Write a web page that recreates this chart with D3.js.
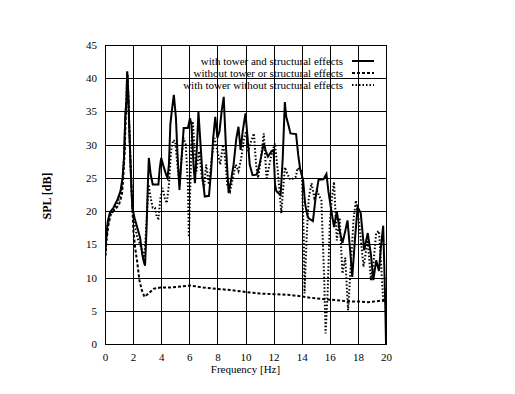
<!DOCTYPE html>
<html><head><meta charset="utf-8">
<script src="https://cdn.jsdelivr.net/npm/d3@7"></script>
<style>body{margin:0;background:#fff}svg{display:block}text{font-family:"Liberation Serif","Times New Roman",serif;fill:#000}</style>
</head><body><div id="c"></div>
<script>
const xTicks = [0,2,4,6,8,10,12,14,16,18,20];
const yTicks = [0,5,10,15,20,25,30,35,40,45];
const seriesNames = ["with tower and structural effects","without tower or structural effects","with tower without structural effects"];

const solidF = [0,0.1,0.2,0.35,0.6,0.9,1.1,1.25,1.35,1.45,1.52,1.58,1.65,1.72,1.8,1.88,1.95,2.1,2.3,2.5,2.65,2.75,2.85,2.95,3.05,3.12,3.25,3.4,3.8,3.9,4.0,4.2,4.35,4.45,4.55,4.65,4.75,4.9,5.05,5.15,5.3,5.45,5.6,5.9,6.05,6.15,6.3,6.4,6.55,6.65,6.8,6.95,7.1,7.4,7.55,7.7,7.85,8.0,8.15,8.3,8.45,8.6,8.8,9.0,9.15,9.35,9.5,9.65,9.8,10.0,10.15,10.3,10.5,10.8,11.0,11.3,11.45,11.6,11.85,12.0,12.1,12.2,12.5,12.65,12.8,12.9,13.05,13.2,13.6,13.75,13.9,14.1,14.25,14.4,14.5,14.8,15.0,15.2,15.55,15.76,15.9,16.07,16.3,16.5,16.7,16.9,17.1,17.26,17.45,17.6,17.8,17.98,18.2,18.45,18.7,18.93,19.1,19.3,19.5,19.64,19.8,19.9,19.95,20.0];
const solidDB = [13,16.5,18.5,19.8,20.5,21.8,23,25,28,34.5,36.5,41,38,33,28,23.5,20.5,19,17.5,16,13.5,12.5,11.8,17,24,28,25.5,24,24,26.5,28,26.5,25.5,25,27,33,35,37.5,34,29,23.2,28,32.5,32.5,34,33,27,24.2,30,35,30,25,22.2,22.3,26,31,34.2,31,32,35,37.2,30,22.7,25,27,31,32.7,29.2,32,34.7,31,27,25.4,25.5,27,30.2,29,28.2,29,29.2,24,23,22.4,28,36.4,34.2,33,31.7,31.6,28.5,26.2,24.7,21,19.4,18.9,18.5,22.2,24.7,24.8,25.6,23,20.6,17.6,20,17,15.2,17,18.6,14,10.1,16,20.6,19.7,14.1,16.7,13.4,9.6,12.6,11,14.6,17.8,10,5.6,0];

const dashF = [0,0.1,0.25,0.4,0.7,1.0,1.2,1.3,1.4,1.48,1.55,1.6,1.67,1.74,1.82,1.9,1.96,2.02,2.14,2.3,2.45,2.62,2.81,3.1,3.45,3.93,4.6,5.2,6.07,7.0,8.0,9.0,10.1,11.0,12.0,13.0,13.9,14.5,15.8,16.5,17.3,18.0,18.7,19.6,20.0];
const dashDB = [12.5,15.5,18,19.5,20.2,21,22.5,25,29,34.5,37,40.5,37,32,27,23,20,17.1,14.6,12.2,9.6,8.1,7.1,7.6,8.3,8.5,8.5,8.6,8.8,8.5,8.3,8.1,7.8,7.6,7.5,7.4,7.2,7.0,6.7,6.6,6.4,6.4,6.3,6.5,6.5];

const dotF = [0,0.1,0.2,0.35,0.6,0.9,1.1,1.25,1.35,1.45,1.52,1.58,1.65,1.72,1.8,1.88,1.95,2.1,2.3,2.5,2.65,2.8,2.95,3.1,3.25,3.4,3.55,3.7,3.8,3.95,4.1,4.25,4.4,4.55,4.7,4.85,5.0,5.15,5.3,5.45,5.6,5.75,5.9,5.97,6.05,6.15,6.25,6.35,6.5,6.7,6.9,7.05,7.2,7.4,7.6,7.8,8.0,8.2,8.4,8.55,8.7,8.9,9.1,9.3,9.5,9.7,9.9,10.05,10.2,10.4,10.6,10.75,10.9,11.1,11.3,11.5,11.7,11.9,12.1,12.3,12.55,12.8,13.0,13.2,13.6,13.7,14.0,14.15,14.2,14.35,14.5,14.7,14.9,15.1,15.4,15.6,15.7,15.85,16.0,16.15,16.3,16.5,16.7,16.9,17.1,17.3,17.5,17.7,17.86,18.1,18.4,18.7,18.93,19.1,19.3,19.5,19.65,19.8,20.0];
const dotDB = [13,16,18,19.3,20.2,21.3,22.5,24.5,28,34.5,36.5,41,38,33,28,23.5,20,18,16,15,14,13,18,24,22,20.5,20.5,19,18.9,22,23.5,22,21.2,24,29,30.7,30.5,27,24,28,31,30,24,16.1,22,30,33.5,30,26,29,25,23.5,27,24,28,31,29,27,30,28,24,23,25,27,26,28,31,32,29,30.5,31.7,27,25,28,31.7,24.7,27,29,30.2,26,19.7,26.6,25.5,24.7,25.2,26.5,26,16,7.6,16,22,24.2,22,23,21.6,10,1.6,8,18,22,24.4,15.6,19,10.6,13,5.1,12,19,21.6,18,11.6,15.6,9.6,12,16.7,17,12,6.6,7];

const W = 515, H = 394;
const m = {left:105, right:386, top:45, bottom:344};
const svg = d3.select("#c").append("svg").attr("width",W).attr("height",H);
const x = d3.scaleLinear().domain([0,20]).range([m.left,m.right]);
const y = d3.scaleLinear().domain([0,45]).range([m.bottom,m.top]);

// grid
const g = svg.append("g");
g.selectAll("line.vx").data(xTicks).join("line")
  .attr("x1",d=>Math.round(x(d))+0.5).attr("x2",d=>Math.round(x(d))+0.5)
  .attr("y1",m.top).attr("y2",m.bottom).attr("stroke","#000").attr("stroke-width",1);
g.selectAll("line.hy").data(yTicks).join("line")
  .attr("y1",d=>Math.round(y(d))+0.5).attr("y2",d=>Math.round(y(d))+0.5)
  .attr("x1",m.left).attr("x2",m.right).attr("stroke","#000").attr("stroke-width",1);

// axes labels via d3 axes (no domain/ticks lines)
const xAxis = svg.append("g").attr("transform",`translate(0,${m.bottom})`)
  .call(d3.axisBottom(x).tickValues(xTicks).tickSize(0).tickPadding(9).tickFormat(d3.format("d")));
const yAxis = svg.append("g").attr("transform",`translate(${m.left},0)`)
  .call(d3.axisLeft(y).tickValues(yTicks).tickSize(0).tickPadding(8).tickFormat(d3.format("d")));
[xAxis,yAxis].forEach(a=>{a.select(".domain").remove();a.selectAll("text").attr("font-size",11).attr("font-family","Liberation Serif");});

svg.append("text").attr("x",(m.left+m.right)/2).attr("y",373).attr("text-anchor","middle")
  .attr("font-size",11).text("Frequency [Hz]");
svg.append("text").attr("transform","translate(51,196) rotate(-90)").attr("text-anchor","middle")
  .attr("font-size",12).attr("font-weight","bold").text("SPL [dB]");

const line = d3.line().x(d=>x(d[0])).y(d=>y(d[1]));
const clip = svg.append("clipPath").attr("id","pc").append("rect")
  .attr("x",m.left).attr("y",m.top).attr("width",m.right-m.left+1).attr("height",m.bottom-m.top+1);
const styles = [
  {dash:null},
  {dash:"3,2"},
  {dash:"1.5,2"}
];
const series = [
  d3.zip(solidF,solidDB),
  d3.zip(dashF,dashDB),
  d3.zip(dotF,dotDB)
];
const pl = svg.append("g").attr("clip-path","url(#pc)");
[1,2,0].forEach(i=>{
  pl.append("path").datum(series[i]).attr("d",line).attr("fill","none")
    .attr("stroke","#000").attr("stroke-width",2).attr("stroke-linejoin","miter")
    .attr("stroke-dasharray",styles[i].dash);
});

// legend
const leg = svg.append("g");
seriesNames.forEach((n,i)=>{
  const yy = 61 + i*12;
  leg.append("text").attr("x",343).attr("y",yy+4).attr("text-anchor","end").attr("font-size",11).text(n);
  leg.append("line").attr("x1",352).attr("x2",374).attr("y1",yy).attr("y2",yy)
    .attr("stroke","#000").attr("stroke-width",2).attr("stroke-dasharray",styles[i].dash);
});
// frame
svg.append("rect").attr("x",m.left+0.5).attr("y",m.top+0.5).attr("width",m.right-m.left).attr("height",m.bottom-m.top)
  .attr("fill","none").attr("stroke","#000");
</script></body></html>
